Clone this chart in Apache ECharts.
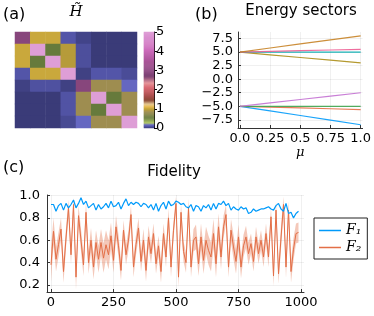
<!DOCTYPE html>
<html><head><meta charset="utf-8">
<script src="https://cdn.jsdelivr.net/npm/echarts@6/dist/echarts.min.js"></script>
<style>html,body{margin:0;padding:0;background:#fff}#c{width:374px;height:316px}</style>
</head><body><div id="c"></div>
<script>
// ---------- data ----------
const hRows = [
  [2.9, 1.02, 1.02, 0.10, 0.03, 0.00, 0.00, 0.00],
  [1.02, 5.0, 0.55, 0.95, 0.07, 0.00, 0.00, 0.00],
  [1.02, 0.55, 5.0, 0.95, 0.07, 0.00, 0.00, 0.00],
  [0.10, 1.02, 1.02, 5.0, 0.02, 0.10, 0.10, 0.06],
  [0.02, 0.08, 0.08, 0.02, 2.9, 0.85, 0.85, 0.16],
  [0.00, 0.00, 0.00, 0.09, 0.85, 5.0, 0.55, 0.85],
  [0.00, 0.00, 0.00, 0.09, 0.85, 0.55, 5.0, 0.85],
  [0.00, 0.00, 0.00, 0.05, 0.16, 0.85, 0.85, 5.0]
];
const cbTicks = [0, 1, 2, 3, 4, 5];

const mu = [0, 0.25, 0.5, 0.75, 1.0];
const E1 = [-5, -5.85, -6.7, -7.55, -8.4];
const E2 = [-5, -5.15, -5.3, -5.45, -5.6];
const E3 = [-5, -5, -5, -5, -5];
const E4 = [-5, -4.38, -3.75, -3.13, -2.5];
const E5 = [5, 4.5, 4.0, 3.5, 3.0];
const E6 = [5, 5, 5, 5, 5];
const E7 = [5, 5.13, 5.25, 5.38, 5.5];
const E8 = [5, 5.75, 6.5, 7.25, 8.0];

const tStep = 10;
const F1 = [0.92,0.92,0.86,0.91,0.93,0.87,0.93,0.89,0.92,0.96,
            0.89,0.93,0.98,0.92,0.95,0.89,0.91,0.93,0.87,0.92,
            0.88,0.90,0.93,0.89,0.95,0.90,0.91,0.94,0.88,0.93,
            0.97,0.91,0.94,0.92,0.94,0.93,0.90,0.93,0.92,0.89,
            0.92,0.87,0.93,0.86,0.91,0.94,0.88,0.95,0.91,0.92,
            0.95,0.94,0.92,0.93,0.90,0.89,0.92,0.86,0.91,0.90,
            0.86,0.91,0.89,0.92,0.87,0.93,0.88,0.93,0.92,0.95,
            0.91,0.93,0.87,0.90,0.88,0.87,0.90,0.88,0.89,0.84,
            0.85,0.88,0.86,0.87,0.88,0.88,0.89,0.90,0.88,0.87,
            0.91,0.93,0.88,0.86,0.93,0.84,0.85,0.80,0.84,0.86];
const F2 = [0.38,0.68,0.43,0.56,0.70,0.32,0.62,0.89,0.47,0.92,
            0.27,0.82,0.60,0.38,0.85,0.40,0.60,0.36,0.58,0.43,
            0.58,0.44,0.56,0.47,0.64,0.42,0.72,0.55,0.33,0.69,
            0.47,0.60,0.83,0.36,0.56,0.71,0.41,0.60,0.33,0.63,
            0.48,0.66,0.39,0.55,0.32,0.66,0.45,0.80,0.36,0.69,
            0.93,0.27,0.85,0.50,0.40,0.89,0.36,0.60,0.63,0.39,
            0.63,0.42,0.60,0.51,0.45,0.66,0.39,0.72,0.45,0.72,
            0.83,0.36,0.69,0.54,0.41,0.63,0.36,0.55,0.63,0.48,
            0.57,0.41,0.63,0.48,0.60,0.45,0.66,0.45,0.81,0.28,
            0.87,0.30,0.62,0.92,0.36,0.87,0.32,0.52,0.66,0.67];
const F2err = [0.15,0.12,0.11,0.11,0.10,0.10,0.09,0.07,0.09,0.06,
               0.11,0.09,0.10,0.10,0.09,0.10,0.11,0.11,0.11,0.12,
               0.12,0.13,0.13,0.13,0.12,0.11,0.10,0.10,0.09,0.09,
               0.09,0.09,0.08,0.09,0.09,0.09,0.09,0.10,0.10,0.10,
               0.09,0.09,0.09,0.09,0.10,0.09,0.09,0.08,0.09,0.08,
               0.06,0.09,0.08,0.09,0.09,0.08,0.09,0.10,0.11,0.11,
               0.12,0.12,0.12,0.13,0.13,0.13,0.12,0.12,0.11,0.10,
               0.09,0.09,0.10,0.11,0.11,0.11,0.10,0.10,0.10,0.10,
               0.09,0.09,0.09,0.09,0.09,0.09,0.09,0.09,0.08,0.09,
               0.08,0.09,0.10,0.07,0.10,0.08,0.10,0.10,0.09,0.09];

// ---------- colormap ----------
const cmapStops = [
 [0.00,'#3a3b78'],[0.05,'#484a93'],[0.10,'#5355a8'],[0.17,'#6668c8'],
 [0.27,'#b2c96a'],[0.40,'#8ca252'],[0.55,'#667a3c'],[0.85,'#9e8d50'],
 [0.95,'#b69b3a'],[1.02,'#c9a83b'],[1.12,'#e7ba52'],[1.25,'#e7cb94'],
 [1.45,'#8c4a38'],[1.75,'#ad494a'],[2.10,'#d6616b'],[2.35,'#e7969c'],
 [2.70,'#7b4173'],[3.40,'#a55194'],[4.10,'#ce6dbd'],[5.00,'#de9ed6']
];
function hex2rgb(h){return [parseInt(h.substr(1,2),16),parseInt(h.substr(3,2),16),parseInt(h.substr(5,2),16)];}
function cmapAt(v){
  for(let i=0;i<cmapStops.length-1;i++){
    const a=cmapStops[i],b=cmapStops[i+1];
    if(v<=b[0]){
      const t=(v-a[0])/(b[0]-a[0]);const ca=hex2rgb(a[1]),cb=hex2rgb(b[1]);
      return 'rgb('+ca.map((c,k)=>Math.round(c+(cb[k]-c)*t)).join(',')+')';
    }
  }
  return cmapStops[cmapStops.length-1][1];
}
const cmapColors=[];
for(let i=0;i<=200;i++) cmapColors.push(cmapAt(i*5/200));

// ---------- build ----------
const heatData=[];
hRows.forEach((row,r)=>row.forEach((v,c)=>heatData.push([c,r,v])));
const cbN=100, cbCats=[], cbData=[];
for(let i=0;i<cbN;i++){cbCats.push(i);cbData.push([0,i,(i+0.5)*5/cbN]);}
const tx=F1.map((_,i)=>i*tStep);

const FONT='DejaVu Sans';
const axCol='#333';
const gridLine={show:true,lineStyle:{color:'rgba(0,0,0,0.1)',width:0.6},showMinLine:false,showMaxLine:false};
function valAxis(extra){
  return Object.assign({
    type:'value',
    axisLine:{show:true,onZero:false,lineStyle:{color:axCol,width:1}},
    axisTick:{show:true,inside:true,length:3,lineStyle:{color:axCol}},
    splitLine:gridLine
  },extra);
}
const eColors=['#009AFA','#E36F47','#3EA44E','#C371D2','#AC8E18','#00AAAE','#ED5E93','#C68225'];
const eSeries=[E1,E2,E3,E4,E5,E6,E7,E8].map((E,k)=>({
  type:'line',xAxisIndex:2,yAxisIndex:3,showSymbol:false,symbol:'none',silent:true,
  data:mu.map((m,i)=>[m,E[i]]),
  lineStyle:{color:eColors[k],width:1.2,opacity:0.9},itemStyle:{color:eColors[k]}
}));
const lbl=(extra)=>Object.assign({fontFamily:FONT,fontSize:13,color:'#000',showMinLabel:false,showMaxLabel:false},extra);

const chart=echarts.init(document.getElementById('c'),null,{renderer:'canvas'});
chart.setOption({
  animation:false,
  backgroundColor:'#fff',
  textStyle:{fontFamily:FONT},
  grid:[
    {left:15,top:32,width:122,height:96},
    {left:144,top:32,width:10,height:96},
    {left:238,top:32,width:127,height:96},
    {left:47,top:195,width:257,height:97}
  ],
  xAxis:[
    {type:'category',gridIndex:0,data:[0,1,2,3,4,5,6,7],show:false},
    {type:'category',gridIndex:1,data:[0],show:false},
    valAxis({gridIndex:2,min:-0.016,max:1.016,minInterval:0.25,maxInterval:0.25,
      axisLabel:lbl({margin:4,formatter:v=>v===0?'0.0':(v===1?'1.0':String(v))}),
      name:'μ',nameLocation:'middle',nameGap:18,
      nameTextStyle:{fontFamily:'DejaVu Serif',fontStyle:'italic',fontSize:13,color:'#000'}}),
    valAxis({gridIndex:3,min:-16,max:1012,minInterval:250,maxInterval:250,
      axisLabel:lbl({margin:4,formatter:v=>String(v)})})
  ],
  yAxis:[
    {type:'category',gridIndex:0,data:[0,1,2,3,4,5,6,7],inverse:true,show:false},
    {type:'category',gridIndex:1,data:cbCats,show:false},
    {type:'value',gridIndex:1,position:'right',min:cbTicks[0],max:cbTicks[cbTicks.length-1],interval:1,
      axisLine:{show:true,lineStyle:{color:'#000',width:1}},
      axisTick:{show:true,inside:false,length:3,lineStyle:{color:'#000'}},
      splitLine:{show:false},
      axisLabel:{fontFamily:FONT,fontSize:13,color:'#000',margin:2}},
    valAxis({gridIndex:2,min:-9.0,max:8.7,minInterval:2.5,maxInterval:2.5,
      axisLabel:lbl({margin:5,formatter:v=>v.toFixed(1).replace('-','\u2212')})}),
    valAxis({gridIndex:3,min:0.137,max:1.005,minInterval:0.2,maxInterval:0.2,
      axisLabel:lbl({margin:7,formatter:v=>v.toFixed(1)})})
  ],
  visualMap:{type:'continuous',show:false,min:0,max:5,seriesIndex:[0,1],inRange:{color:cmapColors}},
  legend:{
    left:314,top:218,orient:'vertical',
    data:[{name:'F1',icon:'rect'},{name:'F2',icon:'rect'}],
    borderColor:'#222',borderWidth:1,padding:[5,6,4,5],itemGap:2,
    itemWidth:22,itemHeight:1.5,
    formatter:n=>n==='F1'?'F\u2081':'F\u2082',
    textStyle:{fontFamily:'DejaVu Serif',fontStyle:'italic',fontSize:14,color:'#000',lineHeight:15}
  },
  graphic:[
    {type:'text',x:3,y:15,style:{text:'(a)',fontFamily:FONT,fontSize:16,fill:'#000',verticalAlign:'middle',align:'left'}},
    {type:'text',x:76,y:12,style:{text:'H\u0303',fontFamily:'DejaVu Serif',fontStyle:'italic',fontSize:15,fill:'#000',verticalAlign:'middle',align:'center'}},
    {type:'text',x:195,y:15,style:{text:'(b)',fontFamily:FONT,fontSize:16,fill:'#000',verticalAlign:'middle',align:'left'}},
    {type:'text',x:301,y:11,style:{text:'Energy sectors',fontFamily:FONT,fontSize:15,fill:'#000',verticalAlign:'middle',align:'center'}},
    {type:'text',x:3,y:168,style:{text:'(c)',fontFamily:FONT,fontSize:16,fill:'#000',verticalAlign:'middle',align:'left'}},
    {type:'text',x:174,y:172,style:{text:'Fidelity',fontFamily:FONT,fontSize:15,fill:'#000',verticalAlign:'middle',align:'center'}}
  ],
  series:[
    {type:'heatmap',xAxisIndex:0,yAxisIndex:0,data:heatData,silent:true},
    {type:'heatmap',xAxisIndex:1,yAxisIndex:1,data:cbData,silent:true},
    ...eSeries,
    {type:'custom',name:'band',xAxisIndex:3,yAxisIndex:4,silent:true,clip:true,
      data:[[tx[0],F2[0]]],
      renderItem:function(params,api){
        const pts=[];
        for(let i=0;i<tx.length;i++) pts.push(api.coord([tx[i],F2[i]+F2err[i]]));
        for(let i=tx.length-1;i>=0;i--) pts.push(api.coord([tx[i],F2[i]-F2err[i]]));
        return {type:'polygon',shape:{points:pts},style:{fill:'rgba(227,111,71,0.38)'}};
      }},
    {type:'line',name:'F2',xAxisIndex:3,yAxisIndex:4,showSymbol:false,symbol:'none',silent:true,
      data:tx.map((t,i)=>[t,F2[i]]),lineStyle:{color:'#E36F47',width:1},itemStyle:{color:'#E36F47'}},
    {type:'line',name:'F1',xAxisIndex:3,yAxisIndex:4,showSymbol:false,symbol:'none',silent:true,
      data:tx.map((t,i)=>[t,F1[i]]),lineStyle:{color:'#009AFA',width:1.2},itemStyle:{color:'#009AFA'}}
  ]
});
</script>
</body></html>
